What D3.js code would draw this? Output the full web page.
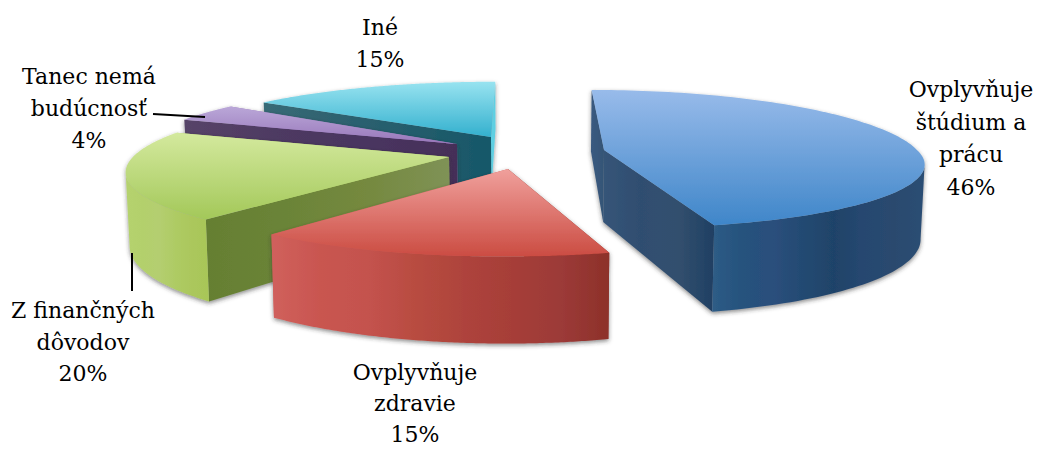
<!DOCTYPE html>
<html><head><meta charset="utf-8">
<script src="https://cdn.jsdelivr.net/npm/d3@7/dist/d3.min.js"></script>
<style>html,body{margin:0;padding:0;background:#fff}svg{display:block}</style>
</head><body>
<svg id="c" width="1040" height="449"></svg>
<script>
// ---- data
const categories = ["Ovplyvňuje štúdium a prácu","Ovplyvňuje zdravie","Z finančných dôvodov","Tanec nemá budúcnosť","Iné"];
const values = [46,15,20,4,15];
const labelLines = [["Ovplyvňuje","štúdium a","prácu","46%"],["Ovplyvňuje","zdravie","15%"],["Z finančných","dôvodov","20%"],["Tanec nemá","budúcnosť","4%"],["Iné","15%"]];
// ---- styling / layout
const labelPos = [[971,97],[415,380],[83,318],[89,84],[380,35]];
const labelStep = [32.5,31,31.5,32,32];
const apex = [[604,150],[508,169],[449,157],[457,144],[491,137]];
const depthFront = [0.92,1.03,1,1,1];
const depthBack = [1,1,1,1,0.92];
const radius = [1,1.04,1.01,1.01,1];
const turn = [0,-1,0,0,0];
const heights = [72,72,71,60,55];
const topColors = [["#98bbea","#3f86c9"],["#f0a09c","#cb4c42"],["#d4e99e","#a3c859"],["#baa7d8","#9877ba"],["#98e3f0","#33b0ce"]];
const rimColors = [
  ["#2e5c86","#25527d","#2b4f7c","#234a72","#1f4369","#264770","#2a4a6e","#2c4e74"],
  ["#d0605c","#c95650","#c4524e","#b84c40","#ae433c","#a63e38","#9c3a38","#8d3129"],
  ["#b5d26e","#b3d06c","#b4ce70","#aecb64","#abc75c","#a8c658"],
  [],[]];
const wallStart = [["#3a5a80","#355576"],["#8d3129","#8d3129"],["#657f32","#6b8438","#75893f","#7f9256"],["#574468","#4e3a62","#493560","#452f58"],["#386a76","#2e6270","#235c6c","#165869"]];
const wallEnd = [["#365478","#2f4e70","#33506e","#1f3f63"],["#cc5a55","#cc5a55"],["#b0cf69","#b0cf69"],["#9a7bbb","#9a7bbb"],["#5fcfe2","#5fcfe2"]];
const drawOrder = [4,3,2,0,1];
const leaders = [[[153,114],[205,117]],[[132,253],[132,291]]];

const R = 313, Q = 70.4, K = 0.172, VX = 520;
const svg = d3.select("#c");
const defs = svg.append("defs");

const f = defs.append("filter").attr("id","sh").attr("x","-10%").attr("y","-10%").attr("width","120%").attr("height","120%");
f.append("feDropShadow").attr("dx",0).attr("dy",2).attr("stdDeviation",2.2).attr("flood-color","#333").attr("flood-opacity",0.55);

const pie = d3.pie().sort(null).value(d=>d).startAngle(0).endAngle(2*Math.PI);
const arcs = pie(values);

function proj(i,a0,r,low){
  const a = a0 + turn[i]*Math.PI/180;
  const X = r*Math.sin(a), Y = -r*Math.cos(a);
  const s = 1/(1-K*Y);
  let x = VX + (apex[i][0]-VX + R*radius[i]*X)*s;
  let y = apex[i][1] + Q*(Y<0?depthBack[i]:depthFront[i])*Y*s;
  if(low){ x -= (x-VX)*0.01; y += heights[i]*s; }
  return [x,y];
}
const line = d3.line();
const closed = d3.line().curve(d3.curveLinearClosed);

function gradH(id,colors,x0,x1){
  const g = defs.append("linearGradient").attr("id",id).attr("gradientUnits","userSpaceOnUse")
    .attr("x1",x0).attr("x2",x1).attr("y1",0).attr("y2",0);
  const t = d3.scaleLinear().domain([0,colors.length-1]).range([0,100]);
  colors.forEach((c,k)=>g.append("stop").attr("offset",t(k)+"%").attr("stop-color",c));
  return `url(#${id})`;
}
function gradV(id,colors){
  const g = defs.append("linearGradient").attr("id",id).attr("x1",0).attr("x2",0).attr("y1",0).attr("y2",1);
  colors.forEach((c,k)=>g.append("stop").attr("offset",k*100+"%").attr("stop-color",c));
  return `url(#${id})`;
}

drawOrder.forEach(i=>{
  const d = arcs[i];
  const g = svg.append("g").attr("class","slice").attr("filter","url(#sh)");
  const angles = d3.range(0,121).map(t=>d.startAngle+(d.endAngle-d.startAngle)*t/120);
  const rimTop = angles.map(a=>proj(i,a,1,false));
  const A = proj(i,0,0,false), AL = proj(i,0,0,true);

  const wall = (a,colors,id)=>{
    const p = proj(i,a,1,false), pl = proj(i,a,1,true);
    const xs = [A[0],p[0]];
    g.append("path").attr("d",closed([A,p,pl,AL]))
      .attr("fill",gradH(id,colors,d3.min(xs),d3.max(xs)));
  };
  wall(d.endAngle,wallEnd[i],"we"+i);
  wall(d.startAngle,wallStart[i],"ws"+i);

  if(rimColors[i].length){
    // keep only the front-facing part of the rim, from the silhouette extreme onward
    let from = 0, to = angles.length-1;
    if(i===0) from = d3.greatestIndex(rimTop,p=>p[0]);
    if(i===2) to = d3.leastIndex(rimTop,p=>p[0]);
    const rimAngles = angles.slice(from,to+1);
    const rt = rimAngles.map(a=>proj(i,a,1,false)), rl = rimAngles.map(a=>proj(i,a,1,true));
    const ex = d3.extent(rt.concat(rl),p=>p[0]);
    const fill = gradH("rim"+i, rimColors[i], ex[0], ex[1]);
    g.append("path").attr("d",closed(rt.concat(rl.slice().reverse()))).attr("fill",fill);
  }

  g.append("path").attr("class","top")
    .attr("d",closed([A].concat(rimTop)))
    .attr("fill",gradV("top"+i,topColors[i]));
});

leaders.forEach(l=>svg.append("path").attr("d",line(l)).attr("stroke","#000").attr("stroke-width",2).attr("fill","none"));

labelLines.forEach((lines,i)=>{
  const t = svg.append("text").attr("text-anchor","middle")
    .attr("font-family","'DejaVu Serif',serif").attr("font-size",22).attr("fill","#000");
  lines.forEach((s,k)=>t.append("tspan").attr("x",labelPos[i][0]).attr("y",labelPos[i][1]+k*labelStep[i]).text(s));
});
</script>
</body></html>
